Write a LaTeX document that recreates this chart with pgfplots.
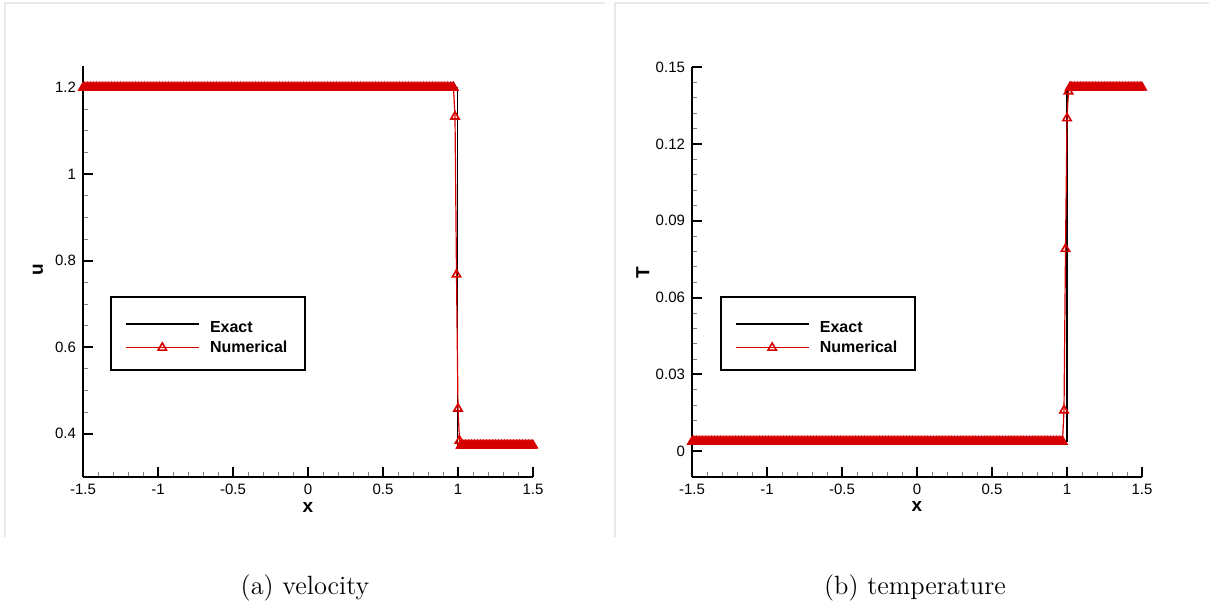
\documentclass[border=0pt]{standalone}
\usepackage{fontspec}
\usepackage{pgfplots}
\pgfplotsset{compat=1.18}
\newfontfamily\arial{Liberation Sans}
\definecolor{numred}{RGB}{214,0,0}
\pgfplotsset{
  tecplot/.style={
    scale only axis, width=225pt,
    axis x line*=bottom, axis y line*=left,
    axis line style={line width=1.1pt, -},
    tick align=inside,
    major tick length=5pt, minor tick length=2.5pt,
    every major tick/.style={black, line width=1pt},
    every minor tick/.style={gray, line width=0.4pt},
    xmin=-1.5, xmax=1.5,
    xtick={-1.5,-1,-0.5,0,0.5,1,1.5},
    minor x tick num=4,
    tick label style={font=\arial\fontsize{7.5}{9}\selectfont},
    /pgf/number format/assume math mode=true,
    label style={font=\arial\fontsize{9.5}{11}\selectfont\bfseries},
    xlabel={x},
    xlabel style={at={(axis description cs:0.5,-0.073)}, anchor=center},
    clip=false,
    legend cell align=left,
    legend style={font=\arial\fontsize{8}{9}\selectfont\bfseries, draw=black, line width=1pt, anchor=north west, inner xsep=7pt, inner ysep=5.6pt, row sep=-1.7pt},
  },
  exact/.style={black, line width=0.8pt, mark=none,
    legend image code/.code={\draw[##1, draw=black] (0pt,0pt) -- (36.5pt,0pt); \path[draw=none,fill=none] (0pt,-0.4pt) rectangle (40pt,3.4pt);}},
  numer/.style={numred, line width=0.6pt, mark=triangle, mark size=2.4pt, mark options={solid, line width=0.8pt, draw=numred},
    legend image code/.code={\draw[mark repeat=2,mark phase=2,##1,draw=numred] plot coordinates {(0pt,0pt) (18.25pt,0pt) (36.5pt,0pt)}; \path[draw=none,fill=none] (40pt,0pt) circle (0.1pt);}},
  numerfill/.style={numred, line width=0.6pt, mark=triangle*, mark size=2.4pt, mark options={solid, line width=0.8pt, draw=numred, fill=numred}, forget plot},
}
\begin{document}
\begin{tikzpicture}
\useasboundingbox (0,0) rectangle (604.5pt,301.5pt);
\draw[gray!18, line width=0.6pt] (2.5pt,33pt) -- (2.5pt,300pt) -- (302.5pt,300pt);
\draw[gray!18, line width=0.6pt] (307.5pt,33pt) -- (307.5pt,300pt) -- (604.5pt,300pt);
\begin{axis}[tecplot, at={(41.5pt,63pt)}, anchor=south west, height=205.5pt,
  ymin=0.3, ymax=1.25, ytick={0.4,0.6,0.8,1,1.2}, minor y tick num=3,
  ylabel={u}, ylabel style={at={(axis description cs:-0.1,0.504)}, anchor=center},
  legend style={at={(0.06,0.44)}}]
\addplot[exact] coordinates {(-1.5,1.2) (0.996,1.2) (0.996,0.373) (1.5,0.373)};
\addlegendentry{\rule{0pt}{10.25pt}Exact}
% numerical solution, shock region
\addplot[numer] coordinates {(0.97,1.2) (0.98,1.133) (0.99,0.768) (1.00,0.458) (1.01,0.384) (1.02,0.373)};
\addlegendentry{Numerical}
% numerical solution, upstream state
\addplot[numerfill] coordinates {
(-1.50,1.2) (-1.49,1.2) (-1.48,1.2) (-1.47,1.2) (-1.46,1.2) (-1.45,1.2) (-1.44,1.2) (-1.43,1.2) (-1.42,1.2) (-1.41,1.2)
(-1.40,1.2) (-1.39,1.2) (-1.38,1.2) (-1.37,1.2) (-1.36,1.2) (-1.35,1.2) (-1.34,1.2) (-1.33,1.2) (-1.32,1.2) (-1.31,1.2)
(-1.30,1.2) (-1.29,1.2) (-1.28,1.2) (-1.27,1.2) (-1.26,1.2) (-1.25,1.2) (-1.24,1.2) (-1.23,1.2) (-1.22,1.2) (-1.21,1.2)
(-1.20,1.2) (-1.19,1.2) (-1.18,1.2) (-1.17,1.2) (-1.16,1.2) (-1.15,1.2) (-1.14,1.2) (-1.13,1.2) (-1.12,1.2) (-1.11,1.2)
(-1.10,1.2) (-1.09,1.2) (-1.08,1.2) (-1.07,1.2) (-1.06,1.2) (-1.05,1.2) (-1.04,1.2) (-1.03,1.2) (-1.02,1.2) (-1.01,1.2)
(-1.00,1.2) (-0.99,1.2) (-0.98,1.2) (-0.97,1.2) (-0.96,1.2) (-0.95,1.2) (-0.94,1.2) (-0.93,1.2) (-0.92,1.2) (-0.91,1.2)
(-0.90,1.2) (-0.89,1.2) (-0.88,1.2) (-0.87,1.2) (-0.86,1.2) (-0.85,1.2) (-0.84,1.2) (-0.83,1.2) (-0.82,1.2) (-0.81,1.2)
(-0.80,1.2) (-0.79,1.2) (-0.78,1.2) (-0.77,1.2) (-0.76,1.2) (-0.75,1.2) (-0.74,1.2) (-0.73,1.2) (-0.72,1.2) (-0.71,1.2)
(-0.70,1.2) (-0.69,1.2) (-0.68,1.2) (-0.67,1.2) (-0.66,1.2) (-0.65,1.2) (-0.64,1.2) (-0.63,1.2) (-0.62,1.2) (-0.61,1.2)
(-0.60,1.2) (-0.59,1.2) (-0.58,1.2) (-0.57,1.2) (-0.56,1.2) (-0.55,1.2) (-0.54,1.2) (-0.53,1.2) (-0.52,1.2) (-0.51,1.2)
(-0.50,1.2) (-0.49,1.2) (-0.48,1.2) (-0.47,1.2) (-0.46,1.2) (-0.45,1.2) (-0.44,1.2) (-0.43,1.2) (-0.42,1.2) (-0.41,1.2)
(-0.40,1.2) (-0.39,1.2) (-0.38,1.2) (-0.37,1.2) (-0.36,1.2) (-0.35,1.2) (-0.34,1.2) (-0.33,1.2) (-0.32,1.2) (-0.31,1.2)
(-0.30,1.2) (-0.29,1.2) (-0.28,1.2) (-0.27,1.2) (-0.26,1.2) (-0.25,1.2) (-0.24,1.2) (-0.23,1.2) (-0.22,1.2) (-0.21,1.2)
(-0.20,1.2) (-0.19,1.2) (-0.18,1.2) (-0.17,1.2) (-0.16,1.2) (-0.15,1.2) (-0.14,1.2) (-0.13,1.2) (-0.12,1.2) (-0.11,1.2)
(-0.10,1.2) (-0.09,1.2) (-0.08,1.2) (-0.07,1.2) (-0.06,1.2) (-0.05,1.2) (-0.04,1.2) (-0.03,1.2) (-0.02,1.2) (-0.01,1.2)
(0.00,1.2) (0.01,1.2) (0.02,1.2) (0.03,1.2) (0.04,1.2) (0.05,1.2) (0.06,1.2) (0.07,1.2) (0.08,1.2) (0.09,1.2)
(0.10,1.2) (0.11,1.2) (0.12,1.2) (0.13,1.2) (0.14,1.2) (0.15,1.2) (0.16,1.2) (0.17,1.2) (0.18,1.2) (0.19,1.2)
(0.20,1.2) (0.21,1.2) (0.22,1.2) (0.23,1.2) (0.24,1.2) (0.25,1.2) (0.26,1.2) (0.27,1.2) (0.28,1.2) (0.29,1.2)
(0.30,1.2) (0.31,1.2) (0.32,1.2) (0.33,1.2) (0.34,1.2) (0.35,1.2) (0.36,1.2) (0.37,1.2) (0.38,1.2) (0.39,1.2)
(0.40,1.2) (0.41,1.2) (0.42,1.2) (0.43,1.2) (0.44,1.2) (0.45,1.2) (0.46,1.2) (0.47,1.2) (0.48,1.2) (0.49,1.2)
(0.50,1.2) (0.51,1.2) (0.52,1.2) (0.53,1.2) (0.54,1.2) (0.55,1.2) (0.56,1.2) (0.57,1.2) (0.58,1.2) (0.59,1.2)
(0.60,1.2) (0.61,1.2) (0.62,1.2) (0.63,1.2) (0.64,1.2) (0.65,1.2) (0.66,1.2) (0.67,1.2) (0.68,1.2) (0.69,1.2)
(0.70,1.2) (0.71,1.2) (0.72,1.2) (0.73,1.2) (0.74,1.2) (0.75,1.2) (0.76,1.2) (0.77,1.2) (0.78,1.2) (0.79,1.2)
(0.80,1.2) (0.81,1.2) (0.82,1.2) (0.83,1.2) (0.84,1.2) (0.85,1.2) (0.86,1.2) (0.87,1.2) (0.88,1.2) (0.89,1.2)
(0.90,1.2) (0.91,1.2) (0.92,1.2) (0.93,1.2) (0.94,1.2) (0.95,1.2) (0.96,1.2) (0.97,1.2)};
% numerical solution, downstream state
\addplot[numerfill] coordinates {
(1.02,0.373) (1.03,0.373) (1.04,0.373) (1.05,0.373) (1.06,0.373) (1.07,0.373) (1.08,0.373) (1.09,0.373)
(1.10,0.373) (1.11,0.373) (1.12,0.373) (1.13,0.373) (1.14,0.373) (1.15,0.373) (1.16,0.373) (1.17,0.373) (1.18,0.373) (1.19,0.373)
(1.20,0.373) (1.21,0.373) (1.22,0.373) (1.23,0.373) (1.24,0.373) (1.25,0.373) (1.26,0.373) (1.27,0.373) (1.28,0.373) (1.29,0.373)
(1.30,0.373) (1.31,0.373) (1.32,0.373) (1.33,0.373) (1.34,0.373) (1.35,0.373) (1.36,0.373) (1.37,0.373) (1.38,0.373) (1.39,0.373)
(1.40,0.373) (1.41,0.373) (1.42,0.373) (1.43,0.373) (1.44,0.373) (1.45,0.373) (1.46,0.373) (1.47,0.373) (1.48,0.373) (1.49,0.373)
(1.50,0.373)};
\end{axis}
\begin{axis}[tecplot, at={(346pt,63pt)}, anchor=south west, height=205pt,
  ymin=-0.01, ymax=0.15, ytick={0,0.03,0.06,0.09,0.12,0.15}, minor y tick num=4,
  yticklabel style={/pgf/number format/fixed, /pgf/number format/precision=2},
  ylabel={T}, ylabel style={at={(axis description cs:-0.109,0.498)}, anchor=center},
  legend style={at={(0.062,0.441)}}]
\addplot[exact] coordinates {(-1.5,0.0038) (0.998,0.0038) (0.998,0.142) (1.5,0.142)};
\addlegendentry{\rule{0pt}{10.25pt}Exact}
\addplot[numer] coordinates {(0.97,0.0038) (0.98,0.016) (0.99,0.079) (1.00,0.130) (1.01,0.1405) (1.02,0.142)};
\addlegendentry{Numerical}
\addplot[numerfill] coordinates {
(-1.50,0.0038) (-1.49,0.0038) (-1.48,0.0038) (-1.47,0.0038) (-1.46,0.0038) (-1.45,0.0038) (-1.44,0.0038) (-1.43,0.0038) (-1.42,0.0038) (-1.41,0.0038)
(-1.40,0.0038) (-1.39,0.0038) (-1.38,0.0038) (-1.37,0.0038) (-1.36,0.0038) (-1.35,0.0038) (-1.34,0.0038) (-1.33,0.0038) (-1.32,0.0038) (-1.31,0.0038)
(-1.30,0.0038) (-1.29,0.0038) (-1.28,0.0038) (-1.27,0.0038) (-1.26,0.0038) (-1.25,0.0038) (-1.24,0.0038) (-1.23,0.0038) (-1.22,0.0038) (-1.21,0.0038)
(-1.20,0.0038) (-1.19,0.0038) (-1.18,0.0038) (-1.17,0.0038) (-1.16,0.0038) (-1.15,0.0038) (-1.14,0.0038) (-1.13,0.0038) (-1.12,0.0038) (-1.11,0.0038)
(-1.10,0.0038) (-1.09,0.0038) (-1.08,0.0038) (-1.07,0.0038) (-1.06,0.0038) (-1.05,0.0038) (-1.04,0.0038) (-1.03,0.0038) (-1.02,0.0038) (-1.01,0.0038)
(-1.00,0.0038) (-0.99,0.0038) (-0.98,0.0038) (-0.97,0.0038) (-0.96,0.0038) (-0.95,0.0038) (-0.94,0.0038) (-0.93,0.0038) (-0.92,0.0038) (-0.91,0.0038)
(-0.90,0.0038) (-0.89,0.0038) (-0.88,0.0038) (-0.87,0.0038) (-0.86,0.0038) (-0.85,0.0038) (-0.84,0.0038) (-0.83,0.0038) (-0.82,0.0038) (-0.81,0.0038)
(-0.80,0.0038) (-0.79,0.0038) (-0.78,0.0038) (-0.77,0.0038) (-0.76,0.0038) (-0.75,0.0038) (-0.74,0.0038) (-0.73,0.0038) (-0.72,0.0038) (-0.71,0.0038)
(-0.70,0.0038) (-0.69,0.0038) (-0.68,0.0038) (-0.67,0.0038) (-0.66,0.0038) (-0.65,0.0038) (-0.64,0.0038) (-0.63,0.0038) (-0.62,0.0038) (-0.61,0.0038)
(-0.60,0.0038) (-0.59,0.0038) (-0.58,0.0038) (-0.57,0.0038) (-0.56,0.0038) (-0.55,0.0038) (-0.54,0.0038) (-0.53,0.0038) (-0.52,0.0038) (-0.51,0.0038)
(-0.50,0.0038) (-0.49,0.0038) (-0.48,0.0038) (-0.47,0.0038) (-0.46,0.0038) (-0.45,0.0038) (-0.44,0.0038) (-0.43,0.0038) (-0.42,0.0038) (-0.41,0.0038)
(-0.40,0.0038) (-0.39,0.0038) (-0.38,0.0038) (-0.37,0.0038) (-0.36,0.0038) (-0.35,0.0038) (-0.34,0.0038) (-0.33,0.0038) (-0.32,0.0038) (-0.31,0.0038)
(-0.30,0.0038) (-0.29,0.0038) (-0.28,0.0038) (-0.27,0.0038) (-0.26,0.0038) (-0.25,0.0038) (-0.24,0.0038) (-0.23,0.0038) (-0.22,0.0038) (-0.21,0.0038)
(-0.20,0.0038) (-0.19,0.0038) (-0.18,0.0038) (-0.17,0.0038) (-0.16,0.0038) (-0.15,0.0038) (-0.14,0.0038) (-0.13,0.0038) (-0.12,0.0038) (-0.11,0.0038)
(-0.10,0.0038) (-0.09,0.0038) (-0.08,0.0038) (-0.07,0.0038) (-0.06,0.0038) (-0.05,0.0038) (-0.04,0.0038) (-0.03,0.0038) (-0.02,0.0038) (-0.01,0.0038)
(0.00,0.0038) (0.01,0.0038) (0.02,0.0038) (0.03,0.0038) (0.04,0.0038) (0.05,0.0038) (0.06,0.0038) (0.07,0.0038) (0.08,0.0038) (0.09,0.0038)
(0.10,0.0038) (0.11,0.0038) (0.12,0.0038) (0.13,0.0038) (0.14,0.0038) (0.15,0.0038) (0.16,0.0038) (0.17,0.0038) (0.18,0.0038) (0.19,0.0038)
(0.20,0.0038) (0.21,0.0038) (0.22,0.0038) (0.23,0.0038) (0.24,0.0038) (0.25,0.0038) (0.26,0.0038) (0.27,0.0038) (0.28,0.0038) (0.29,0.0038)
(0.30,0.0038) (0.31,0.0038) (0.32,0.0038) (0.33,0.0038) (0.34,0.0038) (0.35,0.0038) (0.36,0.0038) (0.37,0.0038) (0.38,0.0038) (0.39,0.0038)
(0.40,0.0038) (0.41,0.0038) (0.42,0.0038) (0.43,0.0038) (0.44,0.0038) (0.45,0.0038) (0.46,0.0038) (0.47,0.0038) (0.48,0.0038) (0.49,0.0038)
(0.50,0.0038) (0.51,0.0038) (0.52,0.0038) (0.53,0.0038) (0.54,0.0038) (0.55,0.0038) (0.56,0.0038) (0.57,0.0038) (0.58,0.0038) (0.59,0.0038)
(0.60,0.0038) (0.61,0.0038) (0.62,0.0038) (0.63,0.0038) (0.64,0.0038) (0.65,0.0038) (0.66,0.0038) (0.67,0.0038) (0.68,0.0038) (0.69,0.0038)
(0.70,0.0038) (0.71,0.0038) (0.72,0.0038) (0.73,0.0038) (0.74,0.0038) (0.75,0.0038) (0.76,0.0038) (0.77,0.0038) (0.78,0.0038) (0.79,0.0038)
(0.80,0.0038) (0.81,0.0038) (0.82,0.0038) (0.83,0.0038) (0.84,0.0038) (0.85,0.0038) (0.86,0.0038) (0.87,0.0038) (0.88,0.0038) (0.89,0.0038)
(0.90,0.0038) (0.91,0.0038) (0.92,0.0038) (0.93,0.0038) (0.94,0.0038) (0.95,0.0038) (0.96,0.0038) (0.97,0.0038)};
\addplot[numerfill] coordinates {
(1.02,0.142) (1.03,0.142) (1.04,0.142) (1.05,0.142) (1.06,0.142) (1.07,0.142) (1.08,0.142) (1.09,0.142)
(1.10,0.142) (1.11,0.142) (1.12,0.142) (1.13,0.142) (1.14,0.142) (1.15,0.142) (1.16,0.142) (1.17,0.142) (1.18,0.142) (1.19,0.142)
(1.20,0.142) (1.21,0.142) (1.22,0.142) (1.23,0.142) (1.24,0.142) (1.25,0.142) (1.26,0.142) (1.27,0.142) (1.28,0.142) (1.29,0.142)
(1.30,0.142) (1.31,0.142) (1.32,0.142) (1.33,0.142) (1.34,0.142) (1.35,0.142) (1.36,0.142) (1.37,0.142) (1.38,0.142) (1.39,0.142)
(1.40,0.142) (1.41,0.142) (1.42,0.142) (1.43,0.142) (1.44,0.142) (1.45,0.142) (1.46,0.142) (1.47,0.142) (1.48,0.142) (1.49,0.142)
(1.50,0.142)};
\end{axis}
\node[anchor=base, font=\fontsize{13.2}{15}\selectfont] at (152.5pt,4pt) {(a) velocity};
\node[anchor=base, font=\fontsize{13.2}{15}\selectfont] at (457.5pt,4pt) {(b) temperature};
\end{tikzpicture}
\end{document}
